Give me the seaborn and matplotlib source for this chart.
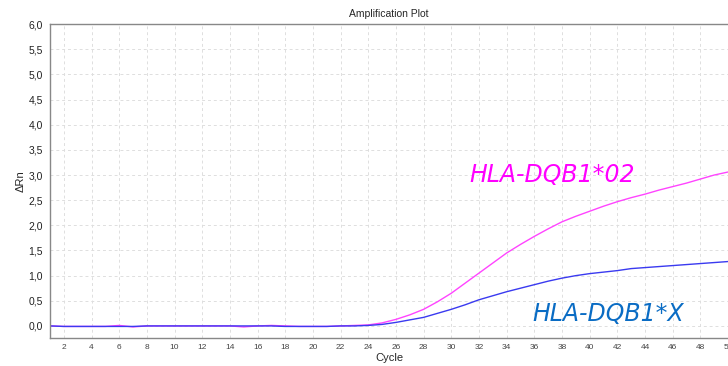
"""Amplification plot for HLA-DQB1 qPCR"""
import numpy as np
import pandas as pd
import matplotlib
matplotlib.use("Agg")
import matplotlib.pyplot as plt
import seaborn as sns

cycles = list(range(1, 51))

# delta Rn per cycle
dqb1_02 = [0.00, -0.01, -0.01, -0.01, -0.01, 0.01, -0.02, 0.00, 0.00, 0.00,
           0.00, 0.00, 0.00, 0.00, -0.02, 0.00, 0.01, 0.00, -0.01, -0.01,
           -0.01, 0.00, 0.01, 0.02, 0.06, 0.13, 0.22, 0.33, 0.48, 0.65,
           0.85, 1.05, 1.25, 1.45, 1.62, 1.78, 1.93, 2.07, 2.18, 2.28,
           2.38, 2.47, 2.55, 2.62, 2.70, 2.77, 2.84, 2.92, 3.00, 3.06]
dqb1_x = [0.00, -0.01, -0.01, -0.01, -0.01, -0.01, -0.01, 0.00, 0.00, 0.00,
          0.00, 0.00, 0.00, 0.00, 0.00, 0.00, 0.00, -0.01, -0.01, -0.01,
          -0.01, 0.00, 0.00, 0.01, 0.03, 0.07, 0.12, 0.17, 0.25, 0.33,
          0.42, 0.52, 0.60, 0.68, 0.75, 0.82, 0.89, 0.95, 1.00, 1.04,
          1.07, 1.10, 1.14, 1.16, 1.18, 1.20, 1.22, 1.24, 1.26, 1.28]

df = pd.DataFrame({"Cycle": cycles * 2,
                   "dRn": dqb1_02 + dqb1_x,
                   "target": ["HLA-DQB1*02"] * 50 + ["HLA-DQB1*X"] * 50})

sns.set_style("white")
plt.rcParams["font.family"] = ["Liberation Sans", "DejaVu Sans"]

fig = plt.figure(figsize=(7.28, 3.66), dpi=100)
ax = fig.add_axes([0.0687, 0.0765, 0.9313, 0.8575])

sns.lineplot(data=df, x="Cycle", y="dRn", hue="target",
             palette={"HLA-DQB1*02": "#ff44ff", "HLA-DQB1*X": "#3a3af0"},
             linewidth=1.0, legend=False, ax=ax)

ax.set_xlim(1, 50)
ax.set_ylim(-0.24, 6.0)
ax.set_xticks(np.arange(2, 51, 2))
ax.set_yticks(np.arange(0, 6.01, 0.5))
ax.set_yticklabels([f"{v:.1f}".replace(".", ",") for v in np.arange(0, 6.01, 0.5)])
ax.tick_params(axis="x", labelsize=6, colors="#444444", length=0, pad=4)
ax.tick_params(axis="y", labelsize=7.5, colors="#222222", length=0, pad=5)
ax.grid(True, color="#dedede", linestyle=(0, (3, 3)), linewidth=0.7)
for side in ["left", "bottom", "top"]:
    ax.spines[side].set_color("#888888")
    ax.spines[side].set_linewidth(1.0)
ax.spines["right"].set_visible(False)

ax.set_title("Amplification Plot", fontsize=7.5, pad=5)
ax.set_xlabel("Cycle", fontsize=8, labelpad=2)
ax.set_ylabel("ΔRn", fontsize=8, labelpad=2)

ax.text(0.619, 0.519, "HLA-DQB1*02", transform=ax.transAxes, color="#ff00ff",
        fontsize=17, fontstyle="oblique", family="DejaVu Sans", va="center")
ax.text(0.711, 0.076, "HLA-DQB1*X", transform=ax.transAxes, color="#0a6cc4",
        fontsize=17, fontstyle="oblique", family="DejaVu Sans", va="center")

fig.savefig("out.png", dpi=100)
